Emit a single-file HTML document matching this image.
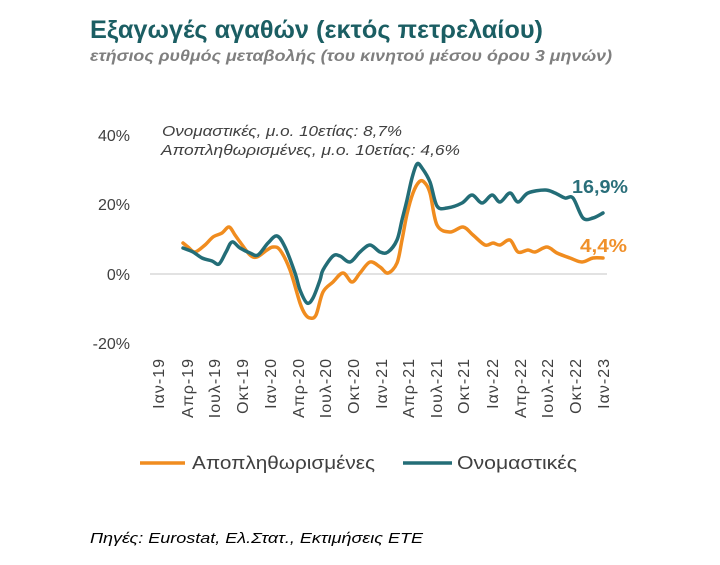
<!DOCTYPE html>
<html>
<head>
<meta charset="utf-8">
<style>
  html, body { margin: 0; padding: 0; background: #ffffff; }
  svg { display: block; }
  text { font-family: "Liberation Sans", "DejaVu Sans", sans-serif; }
</style>
</head>
<body>
<svg id="chart" width="720" height="565" viewBox="0 0 720 565" xmlns="http://www.w3.org/2000/svg">
  <rect width="720" height="565" fill="#ffffff"/>

  <!-- Title -->
  <text x="90" y="38" font-size="25" font-weight="bold" fill="#1b5e63" textLength="453" lengthAdjust="spacingAndGlyphs">Εξαγωγές αγαθών (εκτός πετρελαίου)</text>
  <text x="90" y="61" font-size="16" font-weight="bold" font-style="italic" fill="#7f7f7f" textLength="522" lengthAdjust="spacingAndGlyphs">ετήσιος ρυθμός μεταβολής (του κινητού μέσου όρου 3 μηνών)</text>

  <!-- Y axis labels -->
  <g font-size="16" fill="#404040" text-anchor="end">
    <text x="130" y="141">40%</text>
    <text x="130" y="210">20%</text>
    <text x="130" y="280">0%</text>
    <text x="130" y="349">-20%</text>
  </g>

  <!-- zero line -->
  <line x1="150" y1="274" x2="607" y2="274" stroke="#d9d9d9" stroke-width="1.5"/>

  <!-- annotations -->
  <g font-size="14.5" font-style="italic" fill="#404040">
    <text x="162" y="136" textLength="240" lengthAdjust="spacingAndGlyphs">Ονομαστικές, μ.ο. 10ετίας: 8,7%</text>
    <text x="161" y="155" textLength="299" lengthAdjust="spacingAndGlyphs">Αποπληθωρισμένες, μ.ο. 10ετίας: 4,6%</text>
  </g>

  <!-- Orange series (deflated) -->
  <polyline class="smooth" fill="none" stroke="#f08c1f" stroke-width="3.5" stroke-linejoin="round" stroke-linecap="round"
    points="183,243 188,247 195,252 205,245 213,237 222,233 229,227 235,235 240,242 250,255 257,257 267,250 273,247 280,250 290,270 300,303 305,314 310,318 316,315 323,292 333,282 343,273 352,282 360,273 370,262 380,267 388,273 397,263 402,240 407,214 413,193 419,182 424,182 430,193 437,225 450,232 463,227 473,235 485,245 493,243 500,245 510,240 518,252 528,250 535,252 547,247 557,253 570,258 582,262 593,258 603,258"/>

  <!-- Teal series (nominal) -->
  <polyline class="smooth" fill="none" stroke="#236d77" stroke-width="3.5" stroke-linejoin="round" stroke-linecap="round"
    points="183,248 193,252 202,258 212,261 219,264 226,252 232,242 240,248 250,253 258,255 268,243 277,236 285,247 295,273 300,290 307,303 313,298 320,280 323,270 333,256 340,256 350,262 360,252 370,245 380,252 388,252 397,240 402,220 407,200 412,178 417,164 422,168 430,182 437,206 447,208 462,203 472,195 482,203 492,195 500,202 510,193 518,202 528,193 545,190 555,193 565,198 573,198 583,218 593,218 603,213"/>

  <!-- value labels -->
  <text x="572" y="193" font-size="18" font-weight="bold" fill="#2a6f7a" textLength="56" lengthAdjust="spacingAndGlyphs">16,9%</text>
  <text x="580" y="252" font-size="18" font-weight="bold" fill="#f0902a" textLength="47" lengthAdjust="spacingAndGlyphs">4,4%</text>

  <!-- X axis labels -->
  <g font-size="16" fill="#404040" text-anchor="end" letter-spacing="1">
    <text transform="translate(164,358) rotate(-90)">Ιαν-19</text>
    <text transform="translate(193,358) rotate(-90)">Απρ-19</text>
    <text transform="translate(220,358) rotate(-90)">Ιουλ-19</text>
    <text transform="translate(248,358) rotate(-90)">Οκτ-19</text>
    <text transform="translate(276,358) rotate(-90)">Ιαν-20</text>
    <text transform="translate(304,358) rotate(-90)">Απρ-20</text>
    <text transform="translate(331,358) rotate(-90)">Ιουλ-20</text>
    <text transform="translate(359,358) rotate(-90)">Οκτ-20</text>
    <text transform="translate(387,358) rotate(-90)">Ιαν-21</text>
    <text transform="translate(414,358) rotate(-90)">Απρ-21</text>
    <text transform="translate(442,358) rotate(-90)">Ιουλ-21</text>
    <text transform="translate(469,358) rotate(-90)">Οκτ-21</text>
    <text transform="translate(498,358) rotate(-90)">Ιαν-22</text>
    <text transform="translate(526,358) rotate(-90)">Απρ-22</text>
    <text transform="translate(553,358) rotate(-90)">Ιουλ-22</text>
    <text transform="translate(581,358) rotate(-90)">Οκτ-22</text>
    <text transform="translate(609,358) rotate(-90)">Ιαν-23</text>
  </g>

  <!-- Legend -->
  <line x1="140" y1="463" x2="185" y2="463" stroke="#f08c1f" stroke-width="3.5"/>
  <text x="192" y="469" font-size="18" fill="#404040" textLength="183" lengthAdjust="spacingAndGlyphs">Αποπληθωρισμένες</text>
  <line x1="403" y1="463" x2="452" y2="463" stroke="#236d77" stroke-width="3.5"/>
  <text x="457" y="469" font-size="18" fill="#404040" textLength="120" lengthAdjust="spacingAndGlyphs">Ονομαστικές</text>

  <!-- Source -->
  <text x="90" y="543" font-size="15" font-style="italic" fill="#000000" textLength="333" lengthAdjust="spacingAndGlyphs">Πηγές: Eurostat, Ελ.Στατ., Εκτιμήσεις ΕΤΕ</text>
</svg>
<script>
(function () {
  var NS = "http://www.w3.org/2000/svg";
  var lines = document.querySelectorAll("polyline.smooth");
  for (var k = 0; k < lines.length; k++) {
    var pl = lines[k];
    var raw = pl.getAttribute("points").trim().split(/\s+/);
    var p = raw.map(function (s) { var a = s.split(","); return [parseFloat(a[0]), parseFloat(a[1])]; });
    var d = "M" + p[0][0] + "," + p[0][1];
    var t = 0.5;
    for (var i = 0; i < p.length - 1; i++) {
      var p0 = p[i - 1] || p[i], p1 = p[i], p2 = p[i + 1], p3 = p[i + 2] || p2;
      var c1x = p1[0] + (p2[0] - p0[0]) * t / 3, c1y = p1[1] + (p2[1] - p0[1]) * t / 3;
      var c2x = p2[0] - (p3[0] - p1[0]) * t / 3, c2y = p2[1] - (p3[1] - p1[1]) * t / 3;
      d += " C" + c1x.toFixed(2) + "," + c1y.toFixed(2) + " " + c2x.toFixed(2) + "," + c2y.toFixed(2) + " " + p2[0] + "," + p2[1];
    }
    var path = document.createElementNS(NS, "path");
    path.setAttribute("d", d);
    ["fill", "stroke", "stroke-width", "stroke-linejoin", "stroke-linecap"].forEach(function (a) {
      path.setAttribute(a, pl.getAttribute(a));
    });
    pl.parentNode.replaceChild(path, pl);
  }
})();
</script>
</body>
</html>
